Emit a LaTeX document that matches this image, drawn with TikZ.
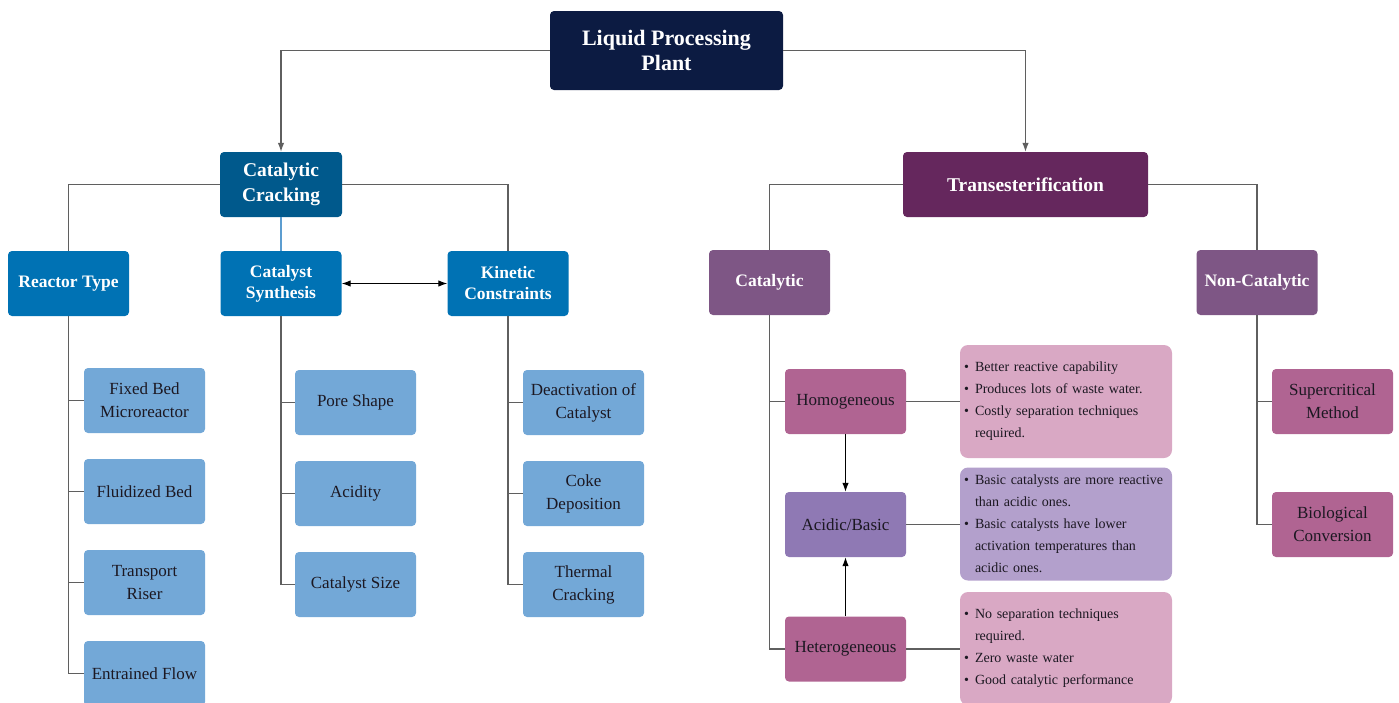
\documentclass[tikz,border=0pt]{standalone}
\usepackage{fontspec}
\setmainfont{Liberation Serif}
\usetikzlibrary{arrows.meta}
\tikzset{>={Latex[length=9pt,width=6.5pt]}}
\definecolor{navy}{RGB}{12,27,66}
\definecolor{crack}{RGB}{0,89,140}
\definecolor{crackgrp}{RGB}{0,114,180}
\definecolor{leafblue}{RGB}{115,168,215}
\definecolor{trans}{RGB}{101,39,93}
\definecolor{transgrp}{RGB}{126,86,133}
\definecolor{mauve}{RGB}{176,100,146}
\definecolor{lilac}{RGB}{143,121,180}
\definecolor{pinknote}{RGB}{217,168,196}
\definecolor{lilacnote}{RGB}{179,160,204}
\definecolor{wire}{RGB}{95,95,95}
\definecolor{inktext}{RGB}{28,24,34}
\tikzstyle{box} = [rectangle, rounded corners=4pt, align=center, inner sep=2pt]
\tikzstyle{plant} = [box, fill=navy, text=white, minimum width=233pt,
    minimum height=79pt, font=\fontsize{22}{25}\selectfont\bfseries]
\tikzstyle{branch} = [box, text=white, minimum width=122pt,
    minimum height=65pt, font=\fontsize{19.5}{25}\selectfont\bfseries]
\tikzstyle{group} = [box, text=white, minimum width=121pt,
    minimum height=65pt, font=\fontsize{17.5}{21}\selectfont\bfseries]
\tikzstyle{leaf} = [box, text=inktext, minimum width=121pt,
    minimum height=65pt, font=\fontsize{17}{23}\selectfont]
\tikzstyle{note} = [box, rounded corners=8pt, text=inktext, align=left,
    text width=204pt, inner xsep=4pt, minimum height=113pt,
    font=\fontsize{14}{22}\selectfont]
\tikzstyle{line} = [draw=wire, line width=1.1pt]
\newcommand{\bul}[1]{\makebox[11pt][l]{\textbullet}#1}
\newcommand{\cont}[1]{\hspace*{11pt}#1}
\begin{document}
\begin{tikzpicture}[x=1pt, y=1pt]
    \useasboundingbox (0,0) rectangle (1399,-702);
    % top of the tree
    \node [plant] (plant) at (666.5,-50.5) {Liquid Processing\\Plant};
    \node [branch, fill=crack] (cracking) at (281,-184.5) {Catalytic\\Cracking};
    \node [branch, fill=trans, minimum width=245pt] (transest) at (1025.5,-184.5)
        {Transesterification};

    % catalytic cracking side
    \node [group, fill=crackgrp] (reactor) at (68.5,-283.5) {Reactor Type};
    \node [group, fill=crackgrp] (synth) at (281,-283.5) {Catalyst\\Synthesis};
    \node [group, fill=crackgrp] (kinetic) at (508,-283.5) {Kinetic\\Constraints};

    \begin{scope}[node distance=91pt]
    \node [leaf, fill=leafblue] (fixbed) at (144.5,-400.5) {Fixed Bed\\Microreactor};
    \node [leaf, fill=leafblue, below of=fixbed] (fluid) {Fluidized Bed};
    \node [leaf, fill=leafblue, below of=fluid] (riser) {Transport\\Riser};
    \node [leaf, fill=leafblue, below of=riser] (entrain) {Entrained Flow};

    \node [leaf, fill=leafblue] (pore) at (355.5,-402.5) {Pore Shape};
    \node [leaf, fill=leafblue, below of=pore] (acidity) {Acidity};
    \node [leaf, fill=leafblue, below of=acidity] (size) {Catalyst Size};

    \node [leaf, fill=leafblue] (deact) at (583.5,-402.5) {Deactivation of\\Catalyst};
    \node [leaf, fill=leafblue, below of=deact] (coke) {Coke\\Deposition};
    \node [leaf, fill=leafblue, below of=coke] (thermal) {Thermal\\Cracking};
    \end{scope}

    % transesterification side
    \node [group, fill=transgrp] (catal) at (769.5,-282.5) {Catalytic};
    \node [group, fill=transgrp] (noncatal) at (1257,-282.5) {Non-Catalytic};

    \node [leaf, fill=mauve] (homo) at (845.5,-401.5) {Homogeneous};
    \node [leaf, fill=lilac] (acidbase) at (845.5,-524.5) {Acidic/Basic};
    \node [leaf, fill=mauve] (hetero) at (845.5,-649) {Heterogeneous};

    \node [leaf, fill=mauve] (supercrit) at (1332.5,-401.5) {Supercritical\\Method};
    \node [leaf, fill=mauve] (bioconv) at (1332.5,-524.5) {Biological\\Conversion};

    \node [note, fill=pinknote] (homonote) at (1066,-401.5)
        {\bul{Better reactive capability}\\
         \bul{Produces lots of waste water.}\\
         \bul{Costly separation techniques}\\
         \cont{required.}};
    \node [note, fill=lilacnote] (abnote) at (1066,-524)
        {\bul{Basic catalysts are more reactive}\\
         \cont{than acidic ones.}\\
         \bul{Basic catalysts have lower}\\
         \cont{activation temperatures than}\\
         \cont{acidic ones.}};
    \node [note, fill=pinknote] (heteronote) at (1066,-648.5)
        {\bul{No separation techniques}\\
         \cont{required.}\\
         \bul{Zero waste water}\\
         \bul{Good catalytic performance}};

    % connectors
    \draw [line,->] (plant.west) -| (cracking.north);
    \draw [line,->] (plant.east) -| (transest.north);
    \draw [line] (cracking.west) -| (reactor.north);
    \draw [line] (cracking.east) -| (kinetic.north);
    \draw [line, draw=leafblue!80!crackgrp] (cracking.south) -- (synth.north);
    \draw [line, draw=black, <->] (synth.east) -- (kinetic.west);
    \foreach \leafname in {fixbed,fluid,riser,entrain}
        \draw [line] (reactor.south) |- (\leafname.west);
    \foreach \leafname in {pore,acidity,size}
        \draw [line] (synth.south) |- (\leafname.west);
    \foreach \leafname in {deact,coke,thermal}
        \draw [line] (kinetic.south) |- (\leafname.west);

    \draw [line] (transest.west) -| (catal.north);
    \draw [line] (transest.east) -| (noncatal.north);
    \draw [line] (catal.south) |- (homo.west);
    \draw [line] (catal.south) |- (hetero.west);
    \draw [line, draw=black, ->] (homo.south) -- (acidbase.north);
    \draw [line, draw=black, ->] (hetero.north) -- (acidbase.south);
    \draw [line] (homo.east) -- (homo.east -| homonote.west);
    \draw [line] (acidbase.east) -- (acidbase.east -| abnote.west);
    \draw [line] (hetero.east) -- (hetero.east -| heteronote.west);
    \draw [line] (noncatal.south) |- (supercrit.west);
    \draw [line] (noncatal.south) |- (bioconv.west);
\end{tikzpicture}
\end{document}
